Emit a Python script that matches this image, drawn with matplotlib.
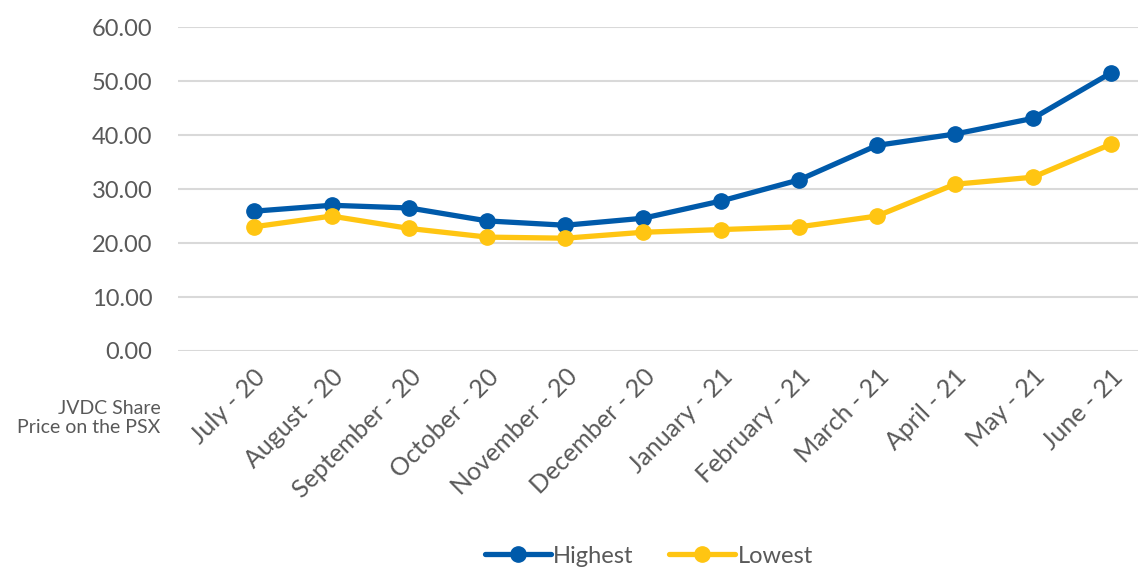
import matplotlib.pyplot as plt
from matplotlib import rcParams

rcParams.update({
    "font.family": ["Lato", "DejaVu Sans"],
    "font.size": 16,
})

# Share price data
months = ["July - 20", "August - 20", "September - 20", "October - 20",
          "November - 20", "December - 20", "January - 21", "February - 21",
          "March - 21", "April - 21", "May - 21", "June - 21"]
highest = [25.9, 27.0, 26.5, 24.1, 23.3, 24.6, 27.8, 31.7, 38.1, 40.2, 43.1, 51.5]
lowest = [23.0, 25.0, 22.7, 21.1, 20.9, 22.0, 22.5, 23.0, 25.0, 30.9, 32.2, 38.3]
yticks = [0, 10, 20, 30, 40, 50, 60]

blue = "#005AAA"
yellow = "#FFC512"
gray = "#595959"

fig = plt.figure(figsize=(11.38, 5.67), dpi=100)
ax = fig.add_axes([0.156, 0.381, 0.844, 0.571])

x = list(range(len(months)))
ax.plot(x, highest, color=blue, linewidth=3.8, marker="o", markersize=11,
        label="Highest", solid_capstyle="round")
ax.plot(x, lowest, color=yellow, linewidth=3.8, marker="o", markersize=11,
        label="Lowest", solid_capstyle="round")

ax.set_ylim(0, 60)
ax.set_xlim(-0.976, 11.35)
ax.set_yticks(yticks)
ax.set_yticklabels([f"{v:.2f}" for v in yticks], color=gray, fontsize=17)
ax.set_xticks(x)
ax.set_xticklabels(months, rotation=45, ha="right", rotation_mode="anchor",
                   color=gray, fontsize=18)
ax.tick_params(axis="both", length=0)
ax.tick_params(axis="y", pad=18)
ax.tick_params(axis="x", pad=10)

ax.grid(axis="y", color="#D9D9D9", linewidth=1.5)
ax.set_axisbelow(True)
for s in ax.spines.values():
    s.set_visible(False)

fig.text(0.141, 0.263, "JVDC Share\nPrice on the PSX", ha="right", va="center",
         color=gray, fontsize=14, linespacing=1.15)

fig.legend(loc="lower center", bbox_to_anchor=(0.57, -0.037), ncol=2,
           frameon=False, fontsize=17, handlelength=2.8, columnspacing=1.5,
           handletextpad=0.1, labelcolor=gray)

fig.savefig("out.png", dpi=100)
